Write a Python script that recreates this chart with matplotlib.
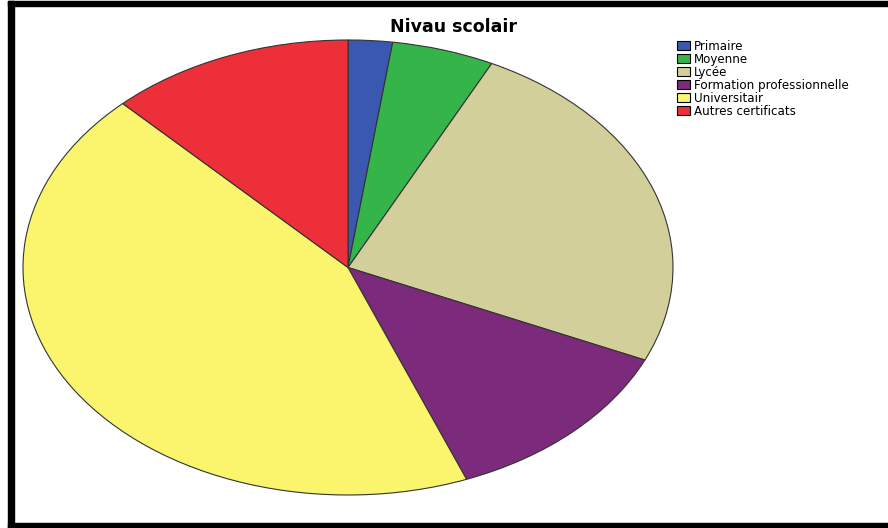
import matplotlib.pyplot as plt
from matplotlib.patches import Rectangle

plt.rcParams['font.family'] = ['DejaVu Sans']

# Data (percent)
categories = ['Primaire', 'Moyenne', 'Lycée', 'Formation professionnelle',
              'Universitair', 'Autres certificats']
values = [2.2, 5.1, 24.4, 12.4, 43.8, 12.2]
colors = ['#3b58b0', '#35b44a', '#d3cf9a', '#7b2a7c', '#fbf56e', '#ed2f3a']

W, H = 888, 528
fig = plt.figure(figsize=(W / 100, H / 100), dpi=100)

# pie stretched into an ellipse
ax = fig.add_axes([23 / W, (H - 495) / H, 650 / W, 455 / H])
wedges, _ = ax.pie(values, colors=colors, startangle=90, counterclock=False,
                   radius=1, wedgeprops=dict(edgecolor='#333333', linewidth=0.8))
ax.set_aspect('auto')
ax.set_xlim(-1, 1)
ax.set_ylim(-1, 1)
ax.axis('off')

fig.text(453 / W, 1 - 27 / H, 'Nivau scolair', ha='center', va='center',
         fontsize=12.5, fontweight='bold')

fig.legend(wedges, categories, loc='upper left',
           bbox_to_anchor=(677 / W, 1 - 40 / H), frameon=False, fontsize=8.6,
           handlelength=1.1, handleheight=0.75, handletextpad=0.3,
           labelspacing=0.0, borderpad=0, borderaxespad=0)
for h in fig.legends[0].legend_handles:
    h.set_edgecolor('black')
    h.set_linewidth(0.8)

# black frame (top, left, bottom)
fig.add_artist(Rectangle((8 / W, 1 - 6 / H), 1 - 8 / W, 5 / H,
                         transform=fig.transFigure, color='black'))
fig.add_artist(Rectangle((8 / W, 0), 6 / W, 1 - 1 / H,
                         transform=fig.transFigure, color='black'))
fig.add_artist(Rectangle((8 / W, 0), 1 - 8 / W, 5 / H,
                         transform=fig.transFigure, color='black'))

plt.savefig('out.png', dpi=100)
